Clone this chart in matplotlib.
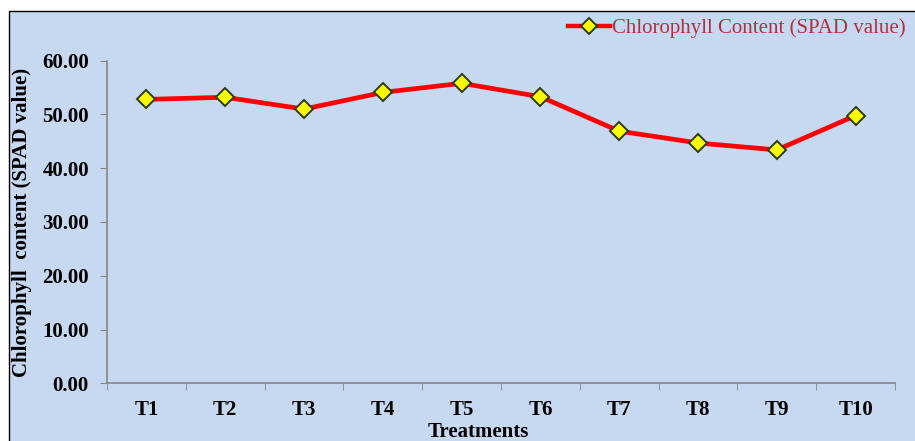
import matplotlib
matplotlib.use('Agg')
import matplotlib.pyplot as plt
from matplotlib.patches import Rectangle
import numpy as np


# data
treatments = ["T1", "T2", "T3", "T4", "T5", "T6", "T7", "T8", "T9", "T10"]
spad = [52.8, 53.2, 51.0, 54.1, 55.8, 53.3, 46.9, 44.7, 43.4, 49.8]
yticks = [0, 10, 20, 30, 40, 50, 60]

# labels
xLabel = "Treatments"
yLabel = "Chlorophyll  content (SPAD value)"
seriesLabel = "Chlorophyll Content (SPAD value)"

bg = "#C6D9F1"
axisGrey = "#868686"

plt.rcParams['font.family'] = ['Liberation Serif', 'DejaVu Serif']

fig = plt.figure(figsize=(9.15, 4.41), dpi=100, facecolor="white")

# chart area box with black border
fig.patches.append(Rectangle((9 / 915, -0.05), 1.0, 1 - 11 / 441 + 0.05,
                             transform=fig.transFigure, facecolor=bg,
                             edgecolor="black", linewidth=1.0, zorder=-1))

ax = fig.add_axes([107 / 915, 1 - 383.3 / 441, (895 - 107) / 915, (383.3 - 60.7) / 441])
ax.set_facecolor("none")
ax.set_zorder(2)

x = np.arange(len(treatments))
ax.plot(x, spad, color="#FF0000", linewidth=3.4, marker="D", markersize=9,
        markerfacecolor="#FFFF00", markeredgecolor="#2E3A10", markeredgewidth=1.4,
        label=seriesLabel, zorder=3)

ax.set_xlim(-0.5, len(treatments) - 0.5)
ax.set_ylim(0, 60)

ax.set_yticks(yticks)
ax.set_yticklabels(["%.2f" % v for v in yticks], fontsize=15, fontweight="bold")
ax.set_xticks(x)
ax.set_xticklabels(treatments, fontsize=15, fontweight="bold")
ax.set_xticks(np.arange(-0.5, len(treatments)), minor=True)
ax.tick_params(axis="x", which="major", length=0, pad=12)
ax.tick_params(axis="x", which="minor", length=5, color=axisGrey, direction="out")
ax.tick_params(axis="y", length=5, color=axisGrey, direction="out", pad=8)

for side in ["top", "right"]:
    ax.spines[side].set_visible(False)
for side in ["left", "bottom"]:
    ax.spines[side].set_color(axisGrey)
    ax.spines[side].set_linewidth(1.2)

ax.set_xlabel(xLabel, fontsize=15, fontweight="bold", va="center")
ax.xaxis.set_label_coords(0.471, -0.150)
ax.set_ylabel(yLabel, fontsize=15, fontweight="bold", va="center")
ax.yaxis.set_label_coords(-0.108, 0.50)

leg = fig.legend(loc="upper left", bbox_to_anchor=(560 / 915, 1 - 10 / 441),
                 frameon=False, fontsize=15, handlelength=2.0, handletextpad=0.1,
                 borderaxespad=0, labelcolor="#B03040")
leg.legend_handles[0].set_markersize(8)
leg.legend_handles[0].set_linewidth(3.2)
leg.set_zorder(3)

fig.savefig("out.png", dpi=100, facecolor=fig.get_facecolor())
